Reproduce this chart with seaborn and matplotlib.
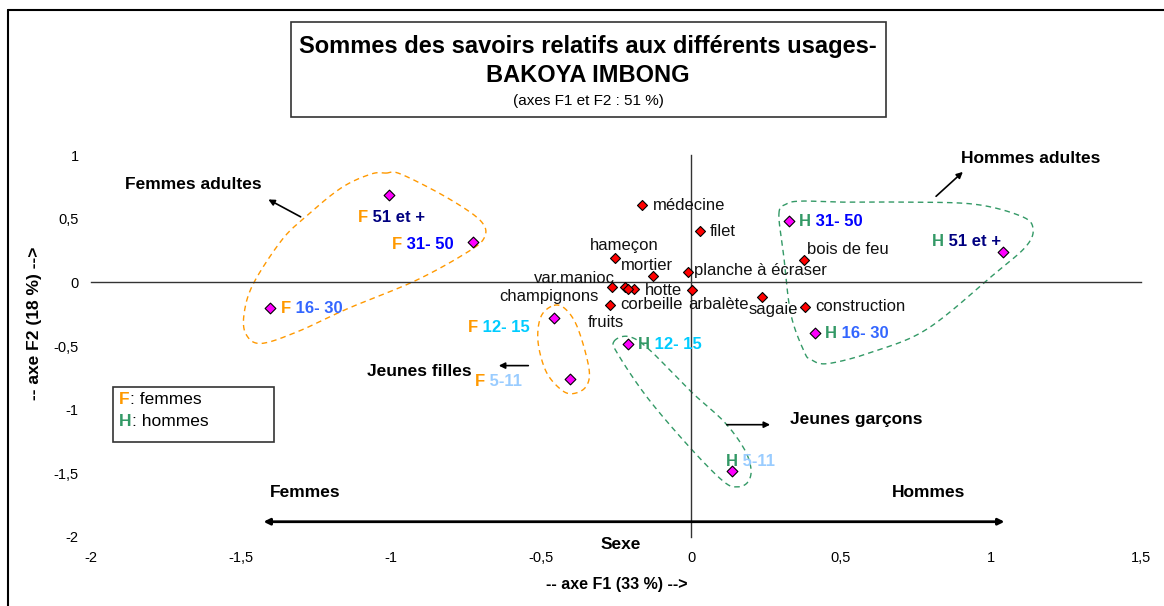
import numpy as np
import pandas as pd
import seaborn as sns
import matplotlib.pyplot as plt
from matplotlib.patches import Rectangle
from matplotlib.lines import Line2D

# ---- individuals: sex x age class, coordinates on F1 / F2 ----
indiv_sex = ['F', 'F', 'F', 'F', 'F', 'H', 'H', 'H', 'H', 'H']
indiv_age = ['51 et +', '31- 50', '16- 30', '12- 15', '5-11',
             '51 et +', '31- 50', '16- 30', '12- 15', '5-11']
indiv_f1 = [-1.007, -0.727, -1.403, -0.457, -0.403,
            1.040, 0.327, 0.413, -0.210, 0.137]
indiv_f2 = [0.685, 0.315, -0.205, -0.283, -0.756,
            0.236, 0.480, -0.400, -0.488, -1.480]

# ---- usages (variables) ----
usages = ['médecine', 'filet', 'hameçon', 'mortier', 'planche à écraser',
          'var.manioc', 'champignons', 'hotte', 'corbeille', 'fruits',
          'arbalète', 'sagaie', 'construction', 'bois de feu']
usage_f1 = [-0.163, 0.030, -0.253, -0.127, -0.010,
            -0.263, -0.220, -0.190, -0.270, -0.210,
            0.003, 0.237, 0.380, 0.377]
usage_f2 = [0.606, 0.400, 0.190, 0.047, 0.079,
            -0.040, -0.040, -0.055, -0.180, -0.055,
            -0.063, -0.118, -0.190, 0.173]

x_ticks = [-2, -1.5, -1, -0.5, 0, 0.5, 1, 1.5]
y_ticks = [-2, -1.5, -1, -0.5, 0, 0.5, 1]

# ---- styling ----
SEX_COLORS = {'F': '#FF9900', 'H': '#339966'}
AGE_COLORS = {'51 et +': '#000080', '31- 50': '#0000FF', '16- 30': '#3366FF',
              '12- 15': '#00CCFF', '5-11': '#99CCFF'}
# label offsets in pixels (left edge of label, vertical centre)
indiv_label_off = [(-31, -22), (-81, -2), (11, 0), (-86, -9), (-95, -3),
                   (-71, 11), (10, 0), (10, 0), (10, 0), (-6, 9)]
usage_label_off = [(11, 0), (10, 0), (-25, 13), (-32, 11), (6, 2),
                   (-78, 9), (-126, -9), (11, -1), (10, 1), (-40, -33),
                   (-4, -14), (-14, -12), (10, 0), (3, 11)]

# hand-drawn grouping outlines (control points of closed curves)
grp_femmes_adultes = [(-1.017, 0.858), (-0.967, 0.850), (-0.81, 0.661), (-0.70, 0.480),
                      (-0.69, 0.346), (-0.757, 0.220), (-0.923, 0.008), (-1.143, -0.205),
                      (-1.31, -0.386), (-1.433, -0.480), (-1.483, -0.409), (-1.49, -0.252),
                      (-1.46, -0.016), (-1.367, 0.323), (-1.29, 0.504), (-1.167, 0.740),
                      (-1.067, 0.850)]
grp_hommes_adultes = [(0.293, 0.535), (0.317, 0.614), (0.367, 0.638), (0.50, 0.630),
                      (0.70, 0.630), (0.943, 0.614), (1.10, 0.520), (1.14, 0.425),
                      (1.117, 0.283), (1.01, 0.063), (0.79, -0.362), (0.61, -0.543),
                      (0.457, -0.638), (0.40, -0.606), (0.377, -0.543), (0.333, -0.252),
                      (0.31, 0.189)]
grp_jeunes_filles = [(-0.457, -0.181), (-0.417, -0.213), (-0.377, -0.362), (-0.34, -0.677),
                     (-0.35, -0.819), (-0.393, -0.874), (-0.433, -0.843), (-0.483, -0.701),
                     (-0.51, -0.465), (-0.50, -0.268)]
grp_jeunes_garcons = [(-0.257, -0.465), (-0.21, -0.425), (-0.143, -0.52), (0.0, -0.858),
                      (0.11, -1.094), (0.177, -1.307), (0.20, -1.465), (0.19, -1.567),
                      (0.157, -1.606), (0.11, -1.567), (0.0, -1.307), (-0.143, -0.913),
                      (-0.243, -0.567)]


def closed_spline(pts, n=24):
    """Closed Catmull-Rom curve through the given points."""
    P = np.asarray(pts, dtype=float)
    m = len(P)
    t = np.linspace(0, 1, n, endpoint=False)[:, None]
    segs = []
    for i in range(m):
        p0, p1, p2, p3 = P[i - 1], P[i], P[(i + 1) % m], P[(i + 2) % m]
        segs.append(0.5 * (2 * p1 + (-p0 + p2) * t
                           + (2 * p0 - 5 * p1 + 4 * p2 - p3) * t ** 2
                           + (-p0 + 3 * p1 - 3 * p2 + p3) * t ** 3))
    out = np.vstack(segs)
    return np.vstack([out, out[:1]])


sns.set_style('white')
plt.rcParams['font.family'] = ['Liberation Sans', 'DejaVu Sans']
plt.rcParams['text.color'] = 'black'
plt.rcParams['xtick.color'] = 'black'
plt.rcParams['ytick.color'] = 'black'

fig = plt.figure(figsize=(11.64, 6.06), dpi=100)
ax = fig.add_axes([91 / 1164, 1 - 537 / 606, 1050 / 1164, 382 / 606])
ax.set_xlim(-2, 1.5)
ax.set_ylim(-2, 1)

# axes crossing at the origin
for side in ('top', 'right'):
    ax.spines[side].set_visible(False)
for side in ('left', 'bottom'):
    ax.spines[side].set_position(('data', 0))
    ax.spines[side].set_color('#333333')
    ax.spines[side].set_linewidth(1.0)
ax.set_xticks(x_ticks)
ax.set_yticks(y_ticks)
ax.tick_params(direction='inout', length=8, width=1, color='#333333',
               labelbottom=False, labelleft=False)

# tick labels along the plot edges
def fmt(v):
    return ('%g' % v).replace('.', ',')

secx = ax.secondary_xaxis(0.0)
secx.set_xticks(x_ticks, labels=[fmt(v) for v in x_ticks])
secx.tick_params(length=0, pad=10, labelsize=10.5, labelcolor='black')
secy = ax.secondary_yaxis(0.0)
secy.set_yticks(y_ticks, labels=[fmt(v) for v in y_ticks])
secy.tick_params(length=0, pad=9, labelsize=10.5, labelcolor='black')
for sec in (secx, secy):
    for s in sec.spines.values():
        s.set_visible(False)

# grouping outlines
for pts, col in [(grp_femmes_adultes, SEX_COLORS['F']), (grp_jeunes_filles, SEX_COLORS['F']),
                 (grp_hommes_adultes, SEX_COLORS['H']), (grp_jeunes_garcons, SEX_COLORS['H'])]:
    c = closed_spline(pts)
    ax.plot(c[:, 0], c[:, 1], color=col, lw=1.0, ls=(0, (4, 3)), zorder=2)

# points
df_ind = pd.DataFrame({'F1': indiv_f1, 'F2': indiv_f2, 'sexe': indiv_sex, 'age': indiv_age})
df_use = pd.DataFrame({'F1': usage_f1, 'F2': usage_f2, 'usage': usages})
sns.scatterplot(data=df_use, x='F1', y='F2', marker='D', color='#FF0000',
                edgecolor='black', linewidth=0.8, s=26, ax=ax, zorder=5, legend=False)
sns.scatterplot(data=df_ind, x='F1', y='F2', marker='D', color='#FF00FF',
                edgecolor='black', linewidth=0.8, s=30, ax=ax, zorder=5, legend=False)
ax.set_xlabel('')
ax.set_ylabel('')

# labels of usages
for (name, x, y), (dx, dy) in zip(df_use[['usage', 'F1', 'F2']].itertuples(index=False),
                                   usage_label_off):
    ax.annotate(name, (x, y), xytext=(dx, dy), textcoords='offset pixels',
                ha='left', va='center', fontsize=12, color='#111111', zorder=6)

# two-coloured labels of individuals
for (sx, age, x, y), (dx, dy) in zip(df_ind[['sexe', 'age', 'F1', 'F2']].itertuples(index=False),
                                      indiv_label_off):
    t1 = ax.annotate(sx, (x, y), xytext=(dx, dy), textcoords='offset pixels',
                     ha='left', va='center', fontsize=12, fontweight='bold',
                     color=SEX_COLORS[sx], zorder=6)
    ax.annotate(' ' + age, xy=(1, 0), xycoords=t1, ha='left', va='bottom',
                fontsize=12, fontweight='bold', color=AGE_COLORS[age], zorder=6)

# group annotations with arrows
arrow_kw = dict(arrowstyle='-|>', color='black', lw=1.2, mutation_scale=9)
ax.annotate('', xy=(-1.417, 0.661), xytext=(-1.293, 0.504), arrowprops=arrow_kw)
ax.annotate('', xy=(0.913, 0.882), xytext=(0.81, 0.661), arrowprops=arrow_kw)
ax.annotate('', xy=(-0.65, -0.654), xytext=(-0.533, -0.654), arrowprops=arrow_kw)
ax.annotate('', xy=(0.273, -1.118), xytext=(0.11, -1.118), arrowprops=arrow_kw)
bold = dict(fontsize=12.5, fontweight='bold', ha='center', va='center', color='black')
ax.text(-1.66, 0.772, 'Femmes adultes', **bold)
ax.text(1.133, 0.969, 'Hommes adultes', **bold)
ax.text(-0.907, -0.70, 'Jeunes filles', **bold)
ax.text(0.55, -1.079, 'Jeunes garçons', **bold)

# sex axis
ax.annotate('', xy=(-1.425, -1.88), xytext=(1.045, -1.88),
            arrowprops=dict(arrowstyle='<|-|>', color='black', lw=2.0, mutation_scale=9,
                            shrinkA=0, shrinkB=0))
ax.text(-1.287, -1.654, 'Femmes', **bold)
ax.text(0.793, -1.654, 'Hommes', **bold)
ax.text(-0.233, -2.06, 'Sexe', **bold)

# axis titles
fig.text(617 / 1164, 1 - 585 / 606, '-- axe F1 (33 %) -->', ha='center', va='center',
         fontsize=11.5, fontweight='bold')
fig.text(35 / 1164, 1 - 323 / 606, '-- axe F2 (18 %) -->', ha='center', va='center',
         rotation=90, fontsize=12.5, fontweight='bold')

# title box
fig.patches.append(Rectangle((291 / 1164, 1 - 117 / 606), 595 / 1164, 95 / 606,
                             transform=fig.transFigure, fill=False, ec='#333333', lw=1.2))
fig.text(588 / 1164, 1 - 46 / 606, 'Sommes des savoirs relatifs aux différents usages-',
         ha='center', va='center', fontsize=17, fontweight='bold')
fig.text(588 / 1164, 1 - 75 / 606, 'BAKOYA IMBONG', ha='center', va='center',
         fontsize=17, fontweight='bold')
fig.text(588 / 1164, 1 - 101 / 606, '(axes F1 et F2 : 51 %)', ha='center', va='center',
         fontsize=11)

# key box
fig.patches.append(Rectangle((113 / 1164, 1 - 442 / 606), 161 / 1164, 55 / 606,
                             transform=fig.transFigure, fill=False, ec='#333333', lw=1.2))
for code, label, ypx in [('F', ': femmes', 400), ('H', ': hommes', 422)]:
    t = fig.text(119 / 1164, 1 - ypx / 606, code, ha='left', va='center', fontsize=12.5,
                 fontweight='bold', color=SEX_COLORS[code])
    ax.annotate(label, xy=(1, 0), xycoords=t, ha='left', va='bottom', fontsize=12.5,
                color='black', annotation_clip=False)

# chart frame (left and top edges)
fig.add_artist(Line2D([8 / 1164, 8 / 1164], [0, 1 - 10 / 606], transform=fig.transFigure,
                      color='black', lw=1.5))
fig.add_artist(Line2D([8 / 1164, 1], [1 - 10 / 606, 1 - 10 / 606], transform=fig.transFigure,
                      color='black', lw=1.5))

fig.savefig('out.png', dpi=100)
